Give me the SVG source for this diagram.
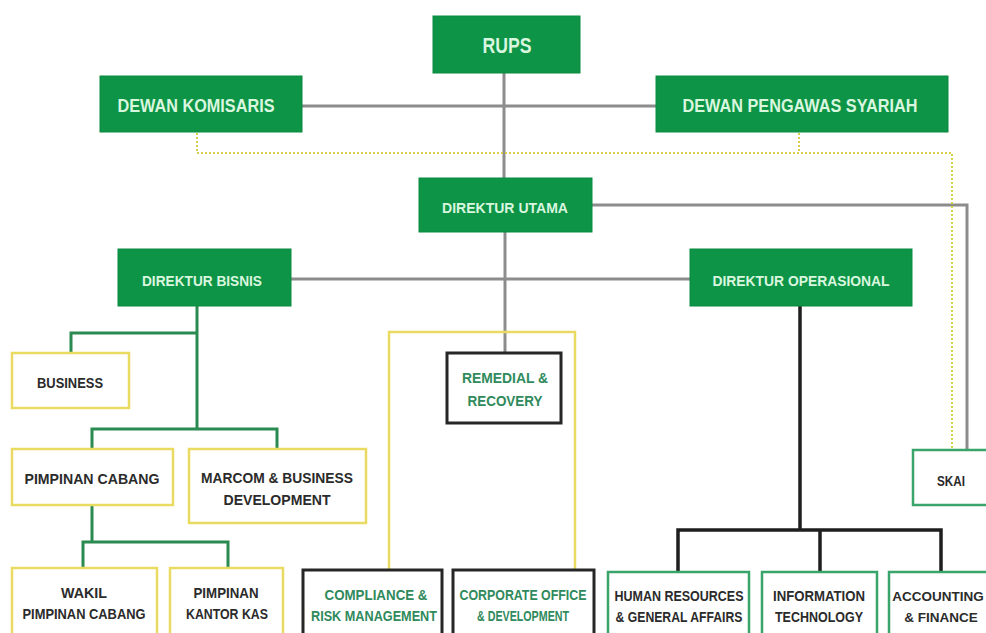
<svg xmlns="http://www.w3.org/2000/svg" width="986" height="633" viewBox="0 0 986 633">
<style>
.g{fill:#0d9447;stroke:#0a8a40;stroke-width:1}
.gt{fill:#d9f6df;font-family:"Liberation Sans",Arial,sans-serif;font-weight:bold;text-anchor:middle}
.yb{fill:#fff;stroke:#e9da62;stroke-width:2.5}
.kb{fill:#fff;stroke:#262626;stroke-width:3}
.eb{fill:#fff;stroke:#3aa56a;stroke-width:2.5}
.dt{fill:#2b2b2b;font-family:"Liberation Sans",Arial,sans-serif;font-weight:bold;text-anchor:middle;font-size:15px}
.ct{fill:#2f8a5c;font-family:"Liberation Sans",Arial,sans-serif;font-weight:bold;text-anchor:middle;font-size:15px}
.sm{font-size:13.5px}
.gray{stroke:#8c8c8c;stroke-width:3;fill:none}
.grn{stroke:#2b8a50;stroke-width:3;fill:none}
.blk{stroke:#1e1e1e;stroke-width:3.5;fill:none}
.yl{stroke:#e9da62;stroke-width:2.5;fill:none}
.dot{stroke:#d8cf4a;stroke-width:2;stroke-dasharray:2 2;fill:none}
</style>
<rect width="986" height="633" fill="#fff"/>
<g id="connectors">
<line class="gray" x1="302" y1="106" x2="656" y2="106"/>
<line class="gray" x1="504" y1="73" x2="504" y2="178"/>
<polyline class="gray" points="592,205 967,205 967,451"/>
<line class="gray" x1="291" y1="279" x2="690" y2="279"/>
<line class="gray" x1="505" y1="232" x2="505" y2="353"/>
<polyline class="dot" points="197,133 197,153 952,153 952,450"/>
<line class="dot" x1="799" y1="133" x2="799" y2="153"/>
<polyline class="yl" points="389,570 389,332 575,332 575,570"/>
<line class="grn" x1="197" y1="306" x2="197" y2="429"/>
<polyline class="grn" points="197,333 71,333 71,353"/>
<polyline class="grn" points="92,449 92,429 277,429 277,449"/>
<line class="grn" x1="92" y1="505" x2="92" y2="542"/>
<polyline class="grn" points="83,568 83,542 228,542 228,568"/>
<line class="blk" x1="800" y1="306" x2="800" y2="530"/>
<polyline class="blk" points="678,572 678,530 941,530 941,572"/>
<line class="blk" x1="820" y1="530" x2="820" y2="572"/>
</g>
<g id="rups"><rect class="g" x="433" y="16" width="147" height="57"/><text class="gt" x="507" y="53" font-size="22" textLength="49" lengthAdjust="spacingAndGlyphs">RUPS</text></g>
<g id="dewan-komisaris"><rect class="g" x="100" y="76" width="202" height="56"/><text class="gt" x="196" y="112" font-size="18" textLength="157" lengthAdjust="spacingAndGlyphs">DEWAN KOMISARIS</text></g>
<g id="dewan-pengawas-syariah"><rect class="g" x="656" y="76" width="292" height="56"/><text class="gt" x="800" y="112" font-size="18" textLength="235" lengthAdjust="spacingAndGlyphs">DEWAN PENGAWAS SYARIAH</text></g>
<g id="direktur-utama"><rect class="g" x="419" y="178" width="173" height="54"/><text class="gt" x="505" y="213" font-size="15" textLength="126" lengthAdjust="spacingAndGlyphs">DIREKTUR UTAMA</text></g>
<g id="direktur-bisnis"><rect class="g" x="118" y="249" width="173" height="57"/><text class="gt" x="202" y="286" font-size="15" textLength="120" lengthAdjust="spacingAndGlyphs">DIREKTUR BISNIS</text></g>
<g id="direktur-operasional"><rect class="g" x="690" y="249" width="222" height="57"/><text class="gt" x="801" y="286" font-size="15" textLength="177" lengthAdjust="spacingAndGlyphs">DIREKTUR OPERASIONAL</text></g>
<g id="business"><rect class="yb" x="12" y="353" width="117" height="55"/><text class="dt" x="70" y="388" textLength="66" lengthAdjust="spacingAndGlyphs">BUSINESS</text></g>
<g id="remedial"><rect class="kb" x="447" y="353" width="114" height="70"/><text class="ct" x="505" y="383" textLength="86" lengthAdjust="spacingAndGlyphs">REMEDIAL &amp;</text><text class="ct" x="505" y="406" textLength="75" lengthAdjust="spacingAndGlyphs">RECOVERY</text></g>
<g id="pimpinan-cabang"><rect class="yb" x="12" y="449" width="161" height="56"/><text class="dt" x="92" y="484" textLength="135" lengthAdjust="spacingAndGlyphs">PIMPINAN CABANG</text></g>
<g id="marcom"><rect class="yb" x="189" y="449" width="177" height="74"/><text class="dt" x="277" y="483" textLength="152" lengthAdjust="spacingAndGlyphs">MARCOM &amp; BUSINESS</text><text class="dt" x="277" y="505" textLength="107" lengthAdjust="spacingAndGlyphs">DEVELOPMENT</text></g>
<g id="wakil"><rect class="yb" x="12" y="568" width="145" height="80"/><text class="dt" x="84" y="598" textLength="46" lengthAdjust="spacingAndGlyphs">WAKIL</text><text class="dt" x="84" y="619" textLength="123" lengthAdjust="spacingAndGlyphs">PIMPINAN CABANG</text></g>
<g id="kantor-kas"><rect class="yb" x="170" y="568" width="113" height="80"/><text class="dt" x="226" y="598" textLength="65" lengthAdjust="spacingAndGlyphs">PIMPINAN</text><text class="dt" x="227" y="619" textLength="82" lengthAdjust="spacingAndGlyphs">KANTOR KAS</text></g>
<g id="compliance"><rect class="kb" x="303" y="570" width="139" height="80"/><text class="ct" x="376" y="600" textLength="103" lengthAdjust="spacingAndGlyphs">COMPLIANCE &amp;</text><text class="ct" x="374" y="621" textLength="126" lengthAdjust="spacingAndGlyphs">RISK MANAGEMENT</text></g>
<g id="corporate"><rect class="kb" x="453" y="570" width="141" height="80"/><text class="ct" x="523" y="600" textLength="127" lengthAdjust="spacingAndGlyphs">CORPORATE OFFICE</text><text class="ct" x="523" y="621" textLength="92" lengthAdjust="spacingAndGlyphs">&amp; DEVELOPMENT</text></g>
<g id="skai"><path class="eb" d="M986,450 H913 V505 H986" fill="#fff"/><text class="dt" x="951" y="486" textLength="28" lengthAdjust="spacingAndGlyphs">SKAI</text></g>
<g id="hr"><rect class="eb" x="608" y="572" width="141" height="80"/><text class="dt" x="679" y="601" textLength="129" lengthAdjust="spacingAndGlyphs">HUMAN RESOURCES</text><text class="dt" x="679" y="622" textLength="127" lengthAdjust="spacingAndGlyphs">&amp; GENERAL AFFAIRS</text></g>
<g id="it"><rect class="eb" x="762" y="572" width="115" height="80"/><text class="dt" x="819" y="601" textLength="92" lengthAdjust="spacingAndGlyphs">INFORMATION</text><text class="dt" x="819" y="622" textLength="88" lengthAdjust="spacingAndGlyphs">TECHNOLOGY</text></g>
<g id="accounting"><path class="eb" d="M986,572 H889 V640" fill="#fff"/><text class="dt sm" x="938" y="601">ACCOUNTING</text><text class="dt sm" x="941" y="622">&amp; FINANCE</text></g>
</svg>
